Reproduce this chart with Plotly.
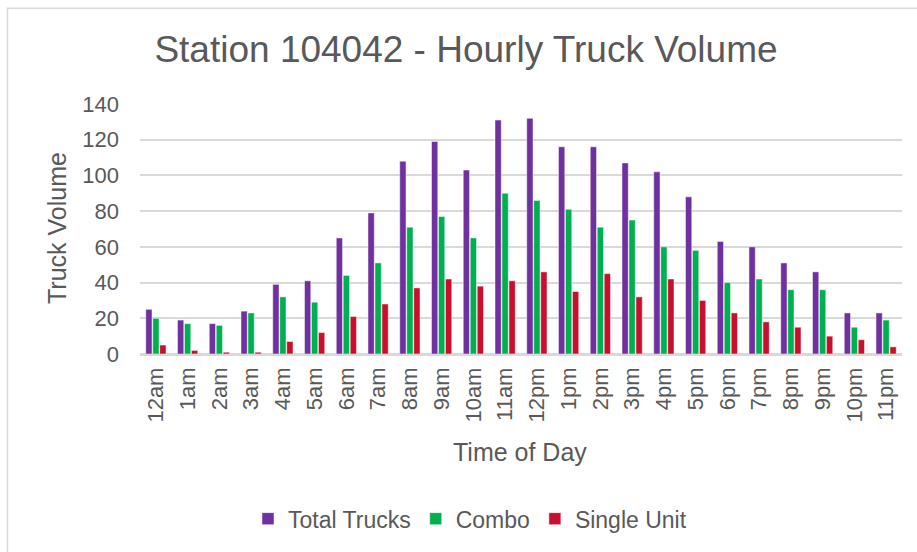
import plotly.graph_objects as go

hours = ["12am", "1am", "2am", "3am", "4am", "5am", "6am", "7am", "8am", "9am", "10am", "11am",
         "12pm", "1pm", "2pm", "3pm", "4pm", "5pm", "6pm", "7pm", "8pm", "9pm", "10pm", "11pm"]
total_trucks = [25, 19, 17, 24, 39, 41, 65, 79, 108, 119, 103, 131,
                132, 116, 116, 107, 102, 88, 63, 60, 51, 46, 23, 23]
combo = [20, 17, 16, 23, 32, 29, 44, 51, 71, 77, 65, 90,
         86, 81, 71, 75, 60, 58, 40, 42, 36, 36, 15, 19]
single_unit = [5, 2, 1, 1, 7, 12, 21, 28, 37, 42, 38, 41,
               46, 35, 45, 32, 42, 30, 23, 18, 15, 10, 8, 4]

series = [("Total Trucks", total_trucks, "#7030A0"),
          ("Combo", combo, "#00B050"),
          ("Single Unit", single_unit, "#C8102E")]

FONT = "Liberation Sans, Arial, sans-serif"
TXT = "#595959"
GRID = "#D9D9D9"

W, H = 917, 552
L, R, T, B = 140, 15, 104, 196
pw, ph = W - L - R, H - T - B

def px(x):
    return (x - L) / pw

def py(y):
    return (H - B - y) / ph

fig = go.Figure()
for name, vals, col in series:
    fig.add_trace(go.Bar(x=hours, y=vals, name=name, marker_color=col,
                         marker_line_color="rgba(255,255,255,0.6)", marker_line_width=0.8))

fig.update_layout(
    width=W, height=H,
    margin=dict(l=L, r=R, t=T, b=B),
    paper_bgcolor="white", plot_bgcolor="white",
    barmode="group", bargap=0.34, bargroupgap=0.1,
    font=dict(family=FONT, color=TXT),
    title=dict(text="Station 104042 - Hourly Truck Volume",
               font=dict(family=FONT, size=37, color=TXT),
               x=px(466), xanchor="center", xref="paper",
               y=1 - 49 / H, yanchor="middle", yref="container"),
    showlegend=True,
    legend=dict(orientation="h", x=px(470), xanchor="center", xref="paper",
                y=py(522), yanchor="middle",
                font=dict(family=FONT, size=23, color=TXT),
                itemwidth=30, tracegroupgap=0),
    xaxis=dict(tickangle=-90, tickfont=dict(size=22, color=TXT),
               showline=True, linecolor=GRID, linewidth=1.5,
               ticks="", ticklabelstandoff=3, showgrid=False),
    yaxis=dict(range=[0, 140], dtick=20, tickfont=dict(size=22, color=TXT),
               showgrid=True, gridcolor=GRID, gridwidth=1.5,
               zeroline=True, zerolinecolor=GRID, zerolinewidth=1.5,
               showline=False, ticks="", ticklabelstandoff=20),
    shapes=[
        dict(type="line", xref="paper", yref="paper",
             x0=px(7.5), x1=px(7.5), y0=py(7), y1=py(560),
             line=dict(color=GRID, width=1.5)),
        dict(type="line", xref="paper", yref="paper",
             x0=px(7), x1=px(930), y0=py(7.5), y1=py(7.5),
             line=dict(color=GRID, width=1.5)),
    ],
    annotations=[
        dict(text="Truck Volume", xref="paper", yref="paper",
             x=px(57), y=py(229), xanchor="center", yanchor="middle",
             textangle=-90, showarrow=False,
             font=dict(family=FONT, size=25, color=TXT)),
        dict(text="Time of Day", xref="paper", yref="paper",
             x=px(520), y=py(455), xanchor="center", yanchor="middle",
             showarrow=False, font=dict(family=FONT, size=25, color=TXT)),
    ],
)

fig.write_html("out.html", config={"displayModeBar": False},
               post_script="document.body.style.margin='0';document.body.style.padding='0';")
